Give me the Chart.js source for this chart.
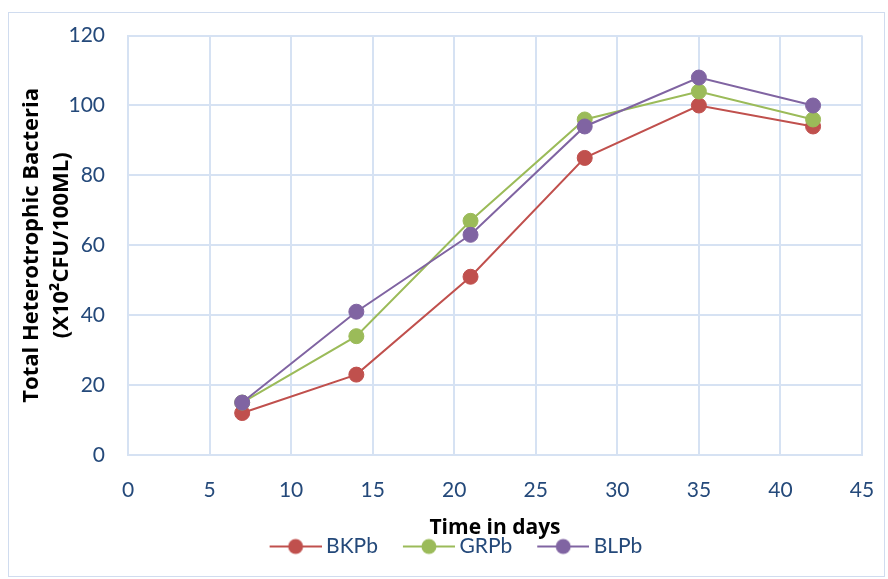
<!DOCTYPE html>
<html>
<head>
<meta charset="utf-8">
<script src="https://cdn.jsdelivr.net/npm/chart.js@4"></script>
<style>
  html, body { margin: 0; padding: 0; background: #fff; }
</style>
</head>
<body>
<canvas id="chart" width="888" height="579"></canvas>
<script>
// days sampled
const days = [7, 14, 21, 28, 35, 42];
// bacteria counts
const bkpb = [12, 23, 51, 85, 100, 94];
const grpb = [15, 34, 67, 96, 104, 96];
const blpb = [15, 41, 63, 94, 108, 100];
const seriesNames = ['BKPb', 'GRPb', 'BLPb'];
const xTitle = 'Time in days';
const yTitle = ['Total Heterotrophic Bacteria', '(X10\u00B2CFU/100ML)'];

const colors = ['#c0504d', '#9bbb59', '#8064a2'];
const tickColor = '#24497a';
const gridColor = '#d6e2f3';

// legend marker: line with a dot, blank on the left to space the items out
function marker(color) {
  const c = document.createElement('canvas');
  c.width = 74; c.height = 18;
  const g = c.getContext('2d');
  g.strokeStyle = color; g.lineWidth = 2;
  g.beginPath(); g.moveTo(22, 9); g.lineTo(74, 9); g.stroke();
  g.fillStyle = color;
  g.beginPath(); g.arc(48, 9, 7.5, 0, Math.PI * 2); g.fill();
  return c;
}

function pts(ys) {
  return days.map((d, i) => ({x: d, y: ys[i]}));
}

// outer frame round the whole chart
const framePlugin = {
  id: 'frame',
  afterDraw(chart) {
    const ctx = chart.ctx;
    ctx.save();
    ctx.strokeStyle = '#d0dcef';
    ctx.lineWidth = 1;
    ctx.strokeRect(8.5, 12.5, 876, 564);
    ctx.restore();
  }
};

const allSeries = [bkpb, grpb, blpb];

new Chart(document.getElementById('chart').getContext('2d'), {
  type: 'scatter',
  data: {
    datasets: allSeries.map((s, i) => ({
      label: seriesNames[i],
      data: pts(s),
      showLine: true,
      borderColor: colors[i],
      backgroundColor: colors[i],
      borderWidth: 2,
      pointRadius: 7.5,
      pointHoverRadius: 7.5,
      pointBorderWidth: 1,
      pointBorderColor: colors[i],
      order: 3 - i
    }))
  },
  options: {
    responsive: false,
    animation: false,
    layout: { padding: { top: 33, right: 26, bottom: 12, left: 34 } },
    plugins: {
      tooltip: { enabled: false },
      legend: {
        position: 'bottom',
        labels: {
          usePointStyle: true,
          pointStyleWidth: 62,
          padding: 9,
          color: tickColor,
          font: { family: 'Lato', size: 21 },
          generateLabels(chart) {
            return chart.data.datasets.map((ds, i) => ({
              text: ds.label,
              fillStyle: colors[i],
              strokeStyle: colors[i],
              fontColor: tickColor,
              lineWidth: 0,
              pointStyle: marker(colors[i]),
              datasetIndex: i,
              hidden: false
            }));
          }
        }
      }
    },
    scales: {
      x: {
        type: 'linear',
        min: 0, max: 45,
        ticks: { stepSize: 5, color: tickColor, padding: 23, font: { family: 'Lato', size: 21 } },
        grid: { color: gridColor, lineWidth: 2, drawTicks: false },
        border: { color: gridColor, width: 2 },
        title: {
          display: true, text: xTitle, color: '#000',
          font: { family: 'Open Sans', size: 21, weight: 'bold' },
          padding: { top: 0, bottom: -14 }
        },
        afterFit(scale) {
          scale.height = 72;
          scale.paddingLeft = 12;
          scale.paddingRight = 12;
        }
      },
      y: {
        min: 0, max: 120,
        ticks: { stepSize: 20, color: tickColor, padding: 23, font: { family: 'Lato', size: 21 } },
        grid: { color: gridColor, lineWidth: 2, drawTicks: false },
        border: { color: gridColor, width: 2 },
        title: {
          display: true, text: yTitle, color: '#000',
          font: { family: 'Open Sans', size: 22, weight: 'bold', lineHeight: 1.36 },
          padding: { top: -17, bottom: 0 }
        },
        afterFit(scale) { scale.width = 94; }
      }
    }
  },
  plugins: [framePlugin]
});
</script>
</body>
</html>
